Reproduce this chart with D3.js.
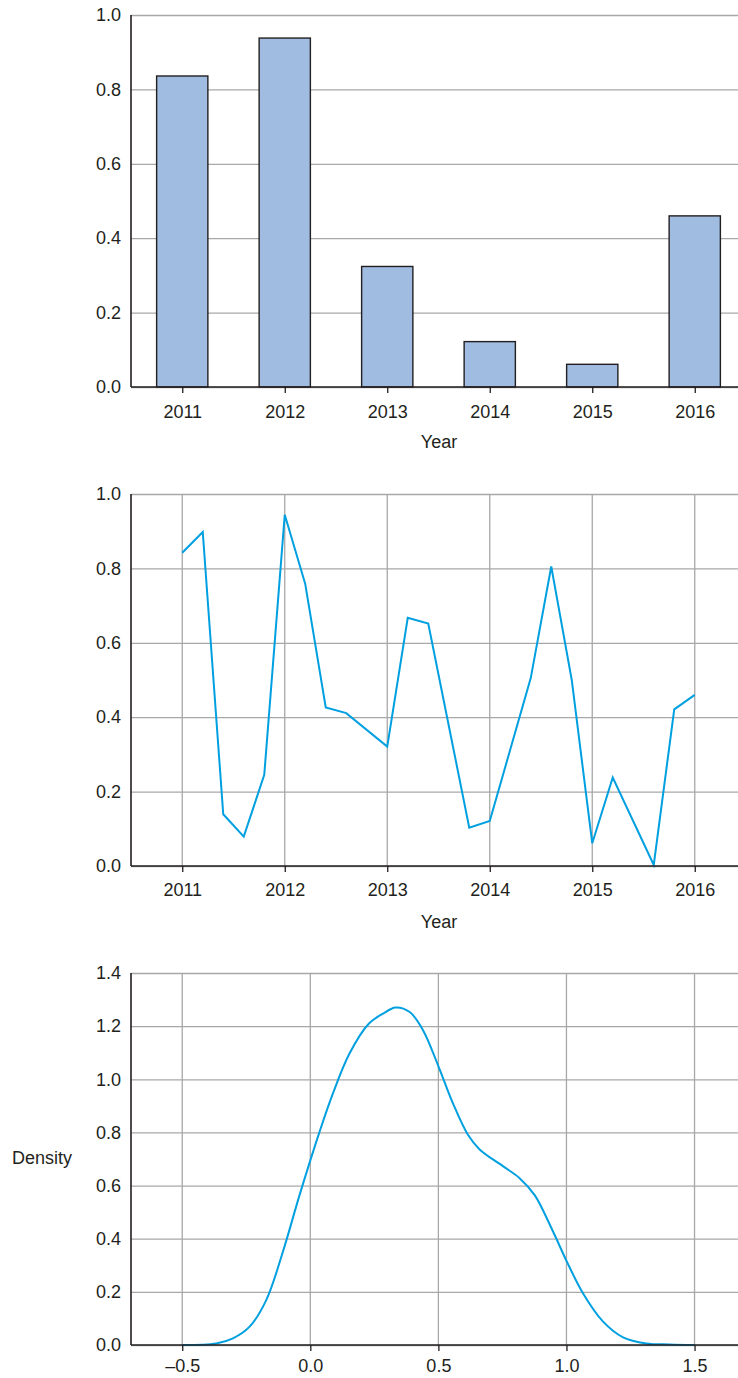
<!DOCTYPE html>
<html>
<head>
<meta charset="utf-8">
<script src="https://cdn.jsdelivr.net/npm/d3@7"></script>
<style>
  body { margin: 0; background: #fff; }
  text { font-family: "Liberation Sans", Arial, sans-serif; fill: #231f20; }
</style>
</head>
<body>
<div id="chart"></div>
<script>
// bar chart: one value per year
const years = ["2011", "2012", "2013", "2014", "2015", "2016"];
const barValues = [0.836, 0.938, 0.324, 0.122, 0.061, 0.46];

// line chart: values read along the year axis
const lineX = [2011, 2011.2, 2011.4, 2011.6, 2011.8, 2012, 2012.2, 2012.4, 2012.6, 2013,
  2013.2, 2013.4, 2013.8, 2014, 2014.4, 2014.6, 2014.8, 2015, 2015.2, 2015.6, 2015.8, 2016];
const lineY = [0.842, 0.898, 0.139, 0.079, 0.245, 0.944, 0.758, 0.426, 0.411, 0.321,
  0.667, 0.652, 0.103, 0.121, 0.505, 0.805, 0.5, 0.061, 0.238, 0.003, 0.421, 0.46];
const yearTicks = [2011, 2012, 2013, 2014, 2015, 2016];

// density curve
const densX = [-0.5, -0.367, -0.302, -0.237, -0.172, -0.107, -0.042, 0.036, 0.088, 0.153, 0.229,
  0.284, 0.333, 0.388, 0.44, 0.501, 0.557, 0.616, 0.661, 0.752, 0.818, 0.876, 0.948, 1.002,
  1.065, 1.143, 1.221, 1.311, 1.403, 1.5];
const densY = [0, 0.006, 0.025, 0.069, 0.169, 0.351, 0.564, 0.802, 0.946, 1.097, 1.21,
  1.247, 1.27, 1.253, 1.185, 1.047, 0.909, 0.79, 0.736, 0.673, 0.627, 0.564, 0.426, 0.313,
  0.194, 0.088, 0.029, 0.006, 0.002, 0];
const densXTicks = [-0.5, 0, 0.5, 1.0, 1.5];

const yTicks01 = [0, 0.2, 0.4, 0.6, 0.8, 1.0];
const yTicksDens = [0, 0.2, 0.4, 0.6, 0.8, 1.0, 1.2, 1.4];

const w = 738;
const h = 1378;
const left = 131;
const right = 746;
const gridColor = "#a8a8a8";
const axisColor = "#231f20";
const lineColor = "#00a0e0";
const fmt = d3.format(".1f");

const svg = d3.select("#chart").append("svg")
  .attr("width", w)
  .attr("height", h);

// horizontal gridlines + y labels
function yGrid(g, y, ticks) {
  g.append("g")
    .attr("transform", "translate(" + left + ",0)")
    .call(d3.axisRight(y).tickValues(ticks).tickSize(w - left).tickFormat(""))
    .call(a => a.select(".domain").remove())
    .call(a => a.selectAll("line").attr("stroke", gridColor).attr("stroke-width", 1.3));
  g.append("g")
    .attr("transform", "translate(" + left + ",0)")
    .call(d3.axisLeft(y).tickValues(ticks).tickSize(0).tickPadding(10).tickFormat(fmt))
    .call(a => a.select(".domain").remove())
    .call(a => a.selectAll("text").attr("font-size", 18).attr("fill", axisColor)
      .attr("font-family", "Liberation Sans, Arial, sans-serif"));
}

function vGrid(g, x, ticks, y) {
  g.append("g")
    .selectAll("line")
    .data(ticks)
    .join("line")
    .attr("x1", d => x(d)).attr("x2", d => x(d))
    .attr("y1", y.range()[0]).attr("y2", y.range()[1])
    .attr("stroke", gridColor)
    .attr("stroke-width", 1.3);
}

function axesFrame(g, y, x, ticks, tickFmt, labelOffset) {
  const y0 = y.range()[0];
  const y1 = y.range()[1];
  g.append("line")
    .attr("x1", left).attr("x2", left).attr("y1", y1).attr("y2", y0)
    .attr("stroke", axisColor).attr("stroke-width", 1.6);
  const xa = g.append("g")
    .attr("transform", "translate(0," + y0 + ")")
    .call(d3.axisBottom(x).tickValues(ticks).tickSize(6).tickPadding(labelOffset).tickFormat(tickFmt));
  xa.select(".domain").remove();
  xa.selectAll("line").attr("stroke", axisColor).attr("stroke-width", 1.3);
  xa.selectAll("text").attr("font-size", 18).attr("fill", axisColor)
    .attr("font-family", "Liberation Sans, Arial, sans-serif");
  g.append("line")
    .attr("x1", left).attr("x2", w).attr("y1", y0).attr("y2", y0)
    .attr("stroke", axisColor).attr("stroke-width", 1.6);
}

// ---- chart 1: bars ----
const g1 = svg.append("g");
const x1 = d3.scalePoint().domain(years).range([left, right]).padding(0.5);
const y1 = d3.scaleLinear().domain([0, 1]).range([387, 15]);
yGrid(g1, y1, yTicks01);
const bw = x1.step() / 2;
g1.selectAll("rect")
  .data(years)
  .join("rect")
  .attr("x", (d) => x1(d) - bw / 2)
  .attr("y", (d, i) => y1(barValues[i]))
  .attr("width", bw)
  .attr("height", (d, i) => y1(0) - y1(barValues[i]))
  .attr("fill", "#a0bde1")
  .attr("stroke", axisColor)
  .attr("stroke-width", 1.4);
axesFrame(g1, y1, x1, years, d => d, 12);
g1.append("text")
  .attr("x", 439).attr("y", 448)
  .attr("text-anchor", "middle").attr("font-size", 18)
  .text("Year");

// ---- chart 2: line ----
const g2 = svg.append("g");
const x2 = d3.scaleLinear().domain([2010.5, 2016.5]).range([left, right]);
const y2 = d3.scaleLinear().domain([0, 1]).range([866, 494]);
yGrid(g2, y2, yTicks01);
vGrid(g2, x2, yearTicks, y2);
g2.append("path")
  .datum(lineX.map((d, i) => [d, lineY[i]]))
  .attr("fill", "none")
  .attr("stroke", lineColor)
  .attr("stroke-width", 2)
  .attr("d", d3.line().x(d => x2(d[0])).y(d => y2(d[1])));
axesFrame(g2, y2, x2, yearTicks, d => String(d), 11);
g2.append("text")
  .attr("x", 439).attr("y", 928)
  .attr("text-anchor", "middle").attr("font-size", 18)
  .text("Year");

// ---- chart 3: density ----
const g3 = svg.append("g");
const x3 = d3.scaleLinear().domain([-0.7, 1.7]).range([left, left + 2.4 * 256.15]);
const y3 = d3.scaleLinear().domain([0, 1.4]).range([1345, 973]);
yGrid(g3, y3, yTicksDens);
vGrid(g3, x3, densXTicks, y3);
g3.append("path")
  .datum(densX.map((d, i) => [d, densY[i]]))
  .attr("fill", "none")
  .attr("stroke", lineColor)
  .attr("stroke-width", 2)
  .attr("d", d3.line().curve(d3.curveCatmullRom.alpha(0.5)).x(d => x3(d[0])).y(d => y3(d[1])));
axesFrame(g3, y3, x3, densXTicks, d => fmt(d).replace("-", "–").replace("−", "–"), 8);
g3.append("text")
  .attr("x", 42).attr("y", 1164)
  .attr("text-anchor", "middle").attr("font-size", 18)
  .text("Density");
</script>
</body>
</html>
